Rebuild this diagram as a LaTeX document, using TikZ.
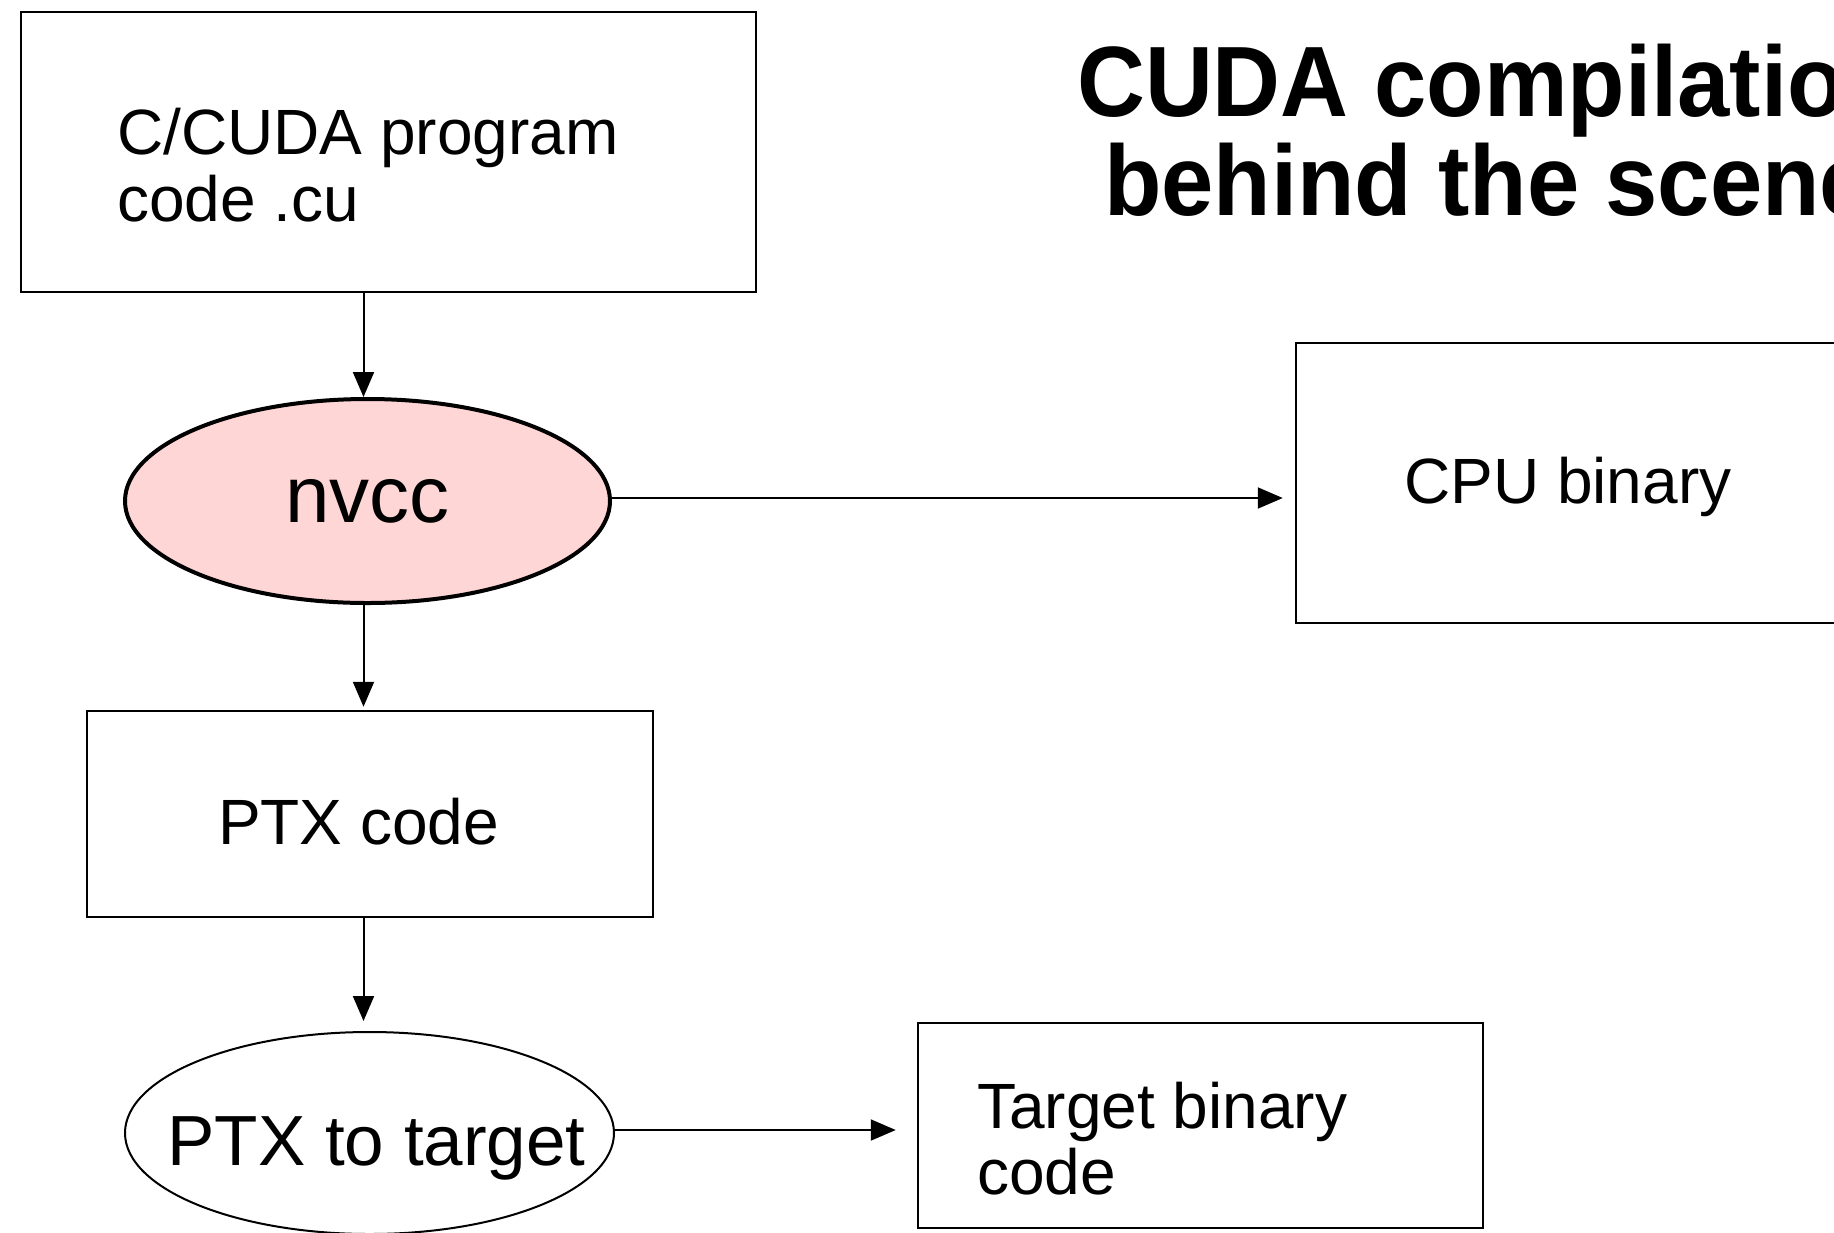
\documentclass[tikz,border=0pt]{standalone}
\usepackage{fontspec}
\setmainfont{Liberation Sans}
\newfontfamily\titlefont{Liberation Sans}[FakeStretch=0.94]
\usetikzlibrary{shapes.geometric,arrows.meta}
\definecolor{nvccpink}{RGB}{255,214,214}
\tikzset{
  boxnode/.style={draw=black, line width=2.5pt, rectangle, inner sep=0pt},
  ovalnode/.style={draw=black, ellipse, inner sep=0pt},
  lbl/.style={anchor=base west, inner sep=0pt, font=\fontsize{64}{66}\selectfont},
  ttl/.style={anchor=base west, inner sep=0pt, font=\titlefont\fontsize{100}{99}\selectfont\bfseries},
  arr/.style={draw=black, line width=2pt, -{Triangle[length=25pt,width=21pt]}}
}
\begin{document}
\begin{tikzpicture}[x=1pt,y=-1pt]
\useasboundingbox (0,0) rectangle (1834,1232);
\clip (0,0) rectangle (1834,1232);
\fill[white] (0,0) rectangle (1834,1232);

% title
\node[ttl] (title1) at (1077,116) {CUDA compilation};
\node[ttl] (title2) at (1104,215) {behind the scenes};

% source box
\node[boxnode, minimum width=735pt, minimum height=280pt] (src) at (388.5,152) {};
\node[lbl] (srcA) at (117,154) {C/CUDA program};
\node[lbl] (srcB) at (117,221) {code .cu};

% nvcc
\node[ovalnode, fill=nvccpink, line width=4pt, minimum width=485pt, minimum height=204pt,
      font=\fontsize{80}{80}\selectfont] (nvcc) at (367.5,501) {nvcc};

% CPU binary box (extends past the right edge)
\node[boxnode, minimum width=704pt, minimum height=280pt] (cpu) at (1648,483) {};
\node[lbl] (cpuT) at (1404,503) {CPU binary};

% PTX code box
\node[boxnode, minimum width=566pt, minimum height=206pt] (ptx) at (370,814) {};
\node[lbl] (ptxT) at (218,844) {PTX code};

% PTX to target ellipse
\node[ovalnode, line width=2pt, minimum width=489pt, minimum height=202pt] (ptxt) at (369.5,1133) {};
\node[anchor=base, inner sep=0pt, font=\fontsize{71}{71}\selectfont] (ptxtT) at (376.5,1165) {PTX to target};

% Target binary box
\node[boxnode, minimum width=565pt, minimum height=205pt] (tgt) at (1200.5,1125.5) {};
\node[lbl] (tgtA) at (977,1128) {Target binary};
\node[lbl] (tgtB) at (977,1194) {code};

% connectors
\draw[arr] ([xshift=-4pt]nvcc.north |- src.south) -- ([xshift=-4pt]nvcc.north);
\draw[arr, shorten >=3pt] ([xshift=-4pt]nvcc.south) -- ([xshift=-4pt]nvcc.south |- ptx.north);
\draw[arr, shorten >=10pt] ([xshift=-6pt]ptxt.north |- ptx.south) -- ([xshift=-6pt]ptxt.north);
\draw[arr, shorten >=12pt] ([yshift=3pt]nvcc.east) -- ([yshift=3pt]nvcc.east -| cpu.west);
\draw[arr, shorten >=21pt] ([yshift=3pt]ptxt.east) -- ([yshift=3pt]ptxt.east -| tgt.west);
\end{tikzpicture}
\end{document}
